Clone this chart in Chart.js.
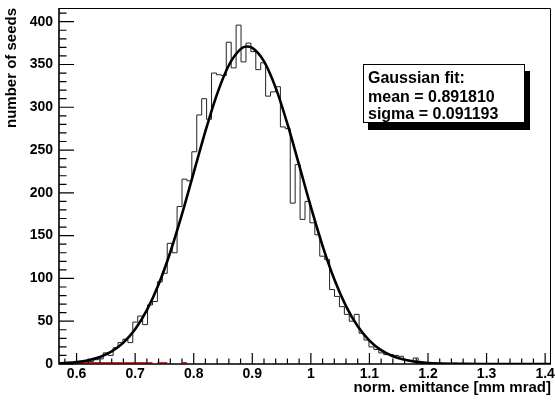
<!DOCTYPE html>
<html>
<head>
<meta charset="utf-8">
<script src="https://cdn.jsdelivr.net/npm/chart.js@4.4.1/dist/chart.umd.min.js"></script>
<style>
  html, body { margin: 0; padding: 0; background: #fff; }
  #wrap { width: 555px; height: 401px; }
</style>
</head>
<body>
<div id="wrap"><canvas id="myChart" width="555" height="401"></canvas></div>
<script>
// 100 bins of 0.0084 between 0.57 and 1.41
const binStart = 0.57;
const binWidth = 0.0084;
const seedCounts = [
  0, 1, 0, 2, 1, 3, 3, 5, 6, 13,
  10, 19, 25, 29, 25, 49, 56, 46, 69, 73,
  96, 106, 141, 130, 184, 216, 214, 248, 291, 310,
  286, 340, 338, 337, 376, 346, 396, 353, 375, 365,
  344, 352, 313, 318, 324, 277, 275, 188, 233, 169,
  190, 165, 151, 126, 122, 87, 79, 67, 58, 50,
  58, 36, 28, 20, 17, 13, 11, 11, 10, 9,
  5, 4, 7, 2, 1, 0, 1, 1, 0, 0,
  1, 0, 0, 0, 0, 0, 0, 0, 0, 0,
  0, 0, 0, 0, 0, 0, 0, 0, 0, 0
];
// small dark red histogram sitting on the x axis
const redCounts = [
  1, 1, 1, 1, 1, 1, 1, 1, 1, 1,
  1, 1, 1, 1, 1, 1, 1, 1, 1, 0,
  1, 1, 0, 0, 0, 1, 0, 0, 0, 0
];

// gaussian fit curve
const fitX = [0.57, 0.58, 0.60, 0.62, 0.64, 0.66, 0.68, 0.70, 0.72, 0.74, 0.76, 0.78, 0.80,
  0.82, 0.84, 0.86, 0.88, 0.89, 0.90, 0.92, 0.94, 0.96, 0.98, 1.00, 1.02, 1.04, 1.06, 1.08,
  1.10, 1.12, 1.14, 1.16, 1.18, 1.20, 1.22, 1.24, 1.26, 1.30, 1.41];
const fitY = [0.7, 1.1, 2.2, 4.4, 8.2, 14.7, 25.0, 40.6, 62.9, 92.9, 130.6, 175.0, 223.6,
  272.1, 315.7, 349.1, 367.9, 371.0, 369.5, 353.7, 322.7, 280.5, 232.4, 183.5, 138.1, 99.1, 67.7, 44.1,
  27.4, 16.2, 9.1, 4.9, 2.5, 1.2, 0.6, 0.25, 0.1, 0, 0];

const xTicks = [0.6, 0.7, 0.8, 0.9, 1, 1.1, 1.2, 1.3, 1.4];
const yTicks = [0, 50, 100, 150, 200, 250, 300, 350, 400];
const fitLines = ["Gaussian fit:", "mean = 0.891810", "sigma = 0.091193"];

const FONT = "'Liberation Sans', Arial, Helvetica, sans-serif";

// histogram outline as step points
const histPoints = [{ x: binStart, y: 0 }];
seedCounts.forEach((c, i) => histPoints.push({ x: binStart + i * binWidth, y: c }));
histPoints.push({ x: binStart + seedCounts.length * binWidth, y: 0 });

const redPoints = [];
redCounts.forEach((c, i) => {
  if (c > 0) {
    redPoints.push({ x: binStart + i * binWidth, y: c });
    redPoints.push({ x: binStart + (i + 1) * binWidth, y: c });
  } else {
    redPoints.push({ x: binStart + (i + 0.5) * binWidth, y: null });
  }
});

const fitPoints = fitX.map((x, i) => ({ x: x, y: fitY[i] }));

const rootFrame = {
  id: 'rootFrame',
  beforeDraw(chart) {
    const ctx = chart.ctx;
    ctx.save();
    ctx.fillStyle = '#fff';
    ctx.fillRect(0, 0, chart.width, chart.height);
    ctx.restore();
  },
  beforeDatasetsDraw(chart) {
    const { ctx, chartArea: a, scales: { x, y } } = chart;
    ctx.save();
    ctx.strokeStyle = '#000';
    // top and right of the frame
    ctx.lineWidth = 1;
    ctx.beginPath();
    ctx.moveTo(a.left, a.top + 0.5);
    ctx.lineTo(a.right - 0.5, a.top + 0.5);
    ctx.lineTo(a.right - 0.5, a.bottom);
    ctx.stroke();
    // axes
    ctx.lineWidth = 1.6;
    ctx.beginPath();
    ctx.moveTo(a.left, a.top);
    ctx.lineTo(a.left, a.bottom);
    ctx.lineTo(a.right, a.bottom);
    ctx.stroke();
    // y ticks, pointing inwards
    ctx.lineWidth = 1.2;
    ctx.beginPath();
    for (let k = 0; k <= 41; k++) {
      const py = y.getPixelForValue(k * 10);
      const len = k % 5 === 0 ? 15 : 7.5;
      ctx.moveTo(a.left, py);
      ctx.lineTo(a.left + len, py);
    }
    // x ticks
    for (let k = 29; k <= 70; k++) {
      const px = x.getPixelForValue(k * 0.02);
      const len = k % 5 === 0 ? 11 : 5.5;
      ctx.moveTo(px, a.bottom);
      ctx.lineTo(px, a.bottom - len);
    }
    ctx.stroke();
    ctx.restore();
  },
  afterDraw(chart) {
    const ctx = chart.ctx;
    const bx = 363, by = 64, bw = 162, bh = 59;
    ctx.save();
    ctx.fillStyle = '#000';
    ctx.fillRect(bx + 5, by + 7, bw, bh);
    ctx.fillStyle = '#fff';
    ctx.fillRect(bx, by, bw, bh);
    ctx.strokeStyle = '#000';
    ctx.lineWidth = 1;
    ctx.strokeRect(bx + 0.5, by + 0.5, bw - 1, bh - 1);
    ctx.fillStyle = '#000';
    ctx.font = "bold 16px " + FONT;
    ctx.textBaseline = 'alphabetic';
    ctx.textAlign = 'left';
    const baselines = [83, 101.5, 119];
    fitLines.forEach((t, i) => ctx.fillText(t, 368, baselines[i]));
    ctx.restore();
  }
};

new Chart(document.getElementById('myChart').getContext('2d'), {
  type: 'scatter',
  data: {
    datasets: [
      {
        label: 'gaussian fit',
        data: fitPoints,
        showLine: true,
        borderColor: '#000',
        borderWidth: 2.6,
        pointRadius: 0,
        cubicInterpolationMode: 'monotone',
        fill: false
      },
      {
        label: 'seeds',
        data: histPoints,
        showLine: true,
        stepped: true,
        borderColor: '#222',
        borderWidth: 1,
        pointRadius: 0,
        fill: false
      },
      {
        label: 'red',
        data: redPoints,
        showLine: true,
        spanGaps: false,
        borderColor: '#7a0000',
        borderWidth: 2,
        pointRadius: 0,
        fill: false
      }
    ]
  },
  options: {
    responsive: false,
    devicePixelRatio: 1,
    animation: false,
    layout: { padding: { left: 0, top: 8, right: 4, bottom: 0 } },
    plugins: {
      legend: { display: false },
      tooltip: { enabled: false }
    },
    scales: {
      x: {
        type: 'linear',
        min: 0.57,
        max: 1.41,
        grid: { display: false, drawTicks: false },
        border: { display: false },
        afterBuildTicks: s => { s.ticks = xTicks.map(v => ({ value: v })); },
        afterFit: s => { s.height = 37; s.paddingLeft = 0; s.paddingRight = 0; },
        ticks: {
          autoSkip: false,
          maxRotation: 0,
          padding: 2,
          color: '#000',
          font: { family: FONT, size: 14, weight: 'bold' },
          callback: v => String(v)
        },
        title: {
          display: true,
          text: 'norm. emittance [mm mrad]',
          align: 'end',
          color: '#000',
          font: { family: FONT, size: 15, weight: 'bold' },
          padding: { top: 0, bottom: 4 }
        }
      },
      y: {
        type: 'linear',
        min: 0,
        max: 416,
        grid: { display: false, drawTicks: false },
        border: { display: false },
        afterBuildTicks: s => { s.ticks = yTicks.map(v => ({ value: v })); },
        afterFit: s => { s.width = 59; s.paddingTop = 0; s.paddingBottom = 0; },
        ticks: {
          autoSkip: false,
          padding: 6,
          color: '#000',
          font: { family: FONT, size: 14, weight: 'bold' },
          callback: v => String(v)
        },
        title: {
          display: true,
          text: 'number of seeds',
          align: 'end',
          color: '#000',
          font: { family: FONT, size: 15, weight: 'bold' },
          padding: { top: 3, bottom: 0 }
        }
      }
    }
  },
  plugins: [rootFrame]
});
</script>
</body>
</html>
